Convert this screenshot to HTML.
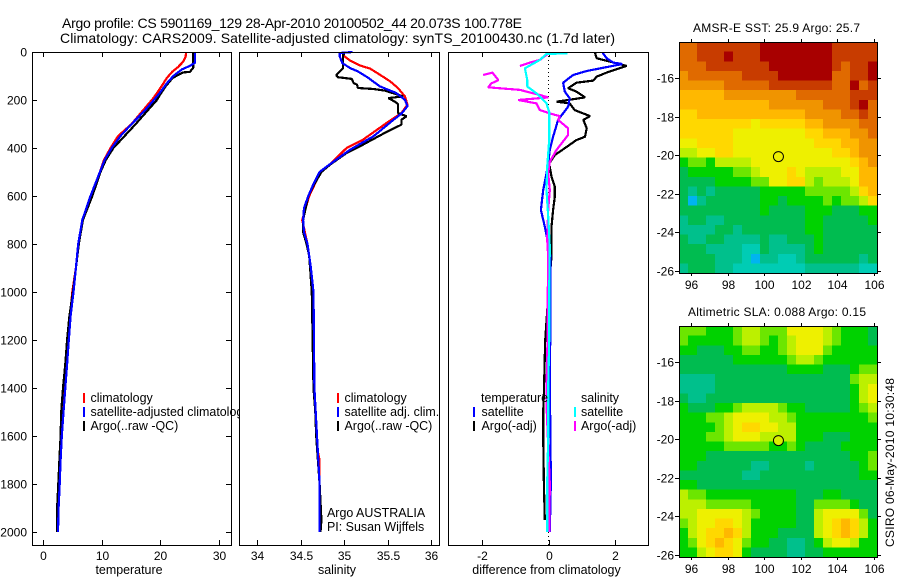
<!DOCTYPE html>
<html lang="en">
<head>
<meta charset="utf-8">
<title>Argo profile</title>
<style>
html,body{margin:0;padding:0;background:#fff;}
svg{display:block;font-family:"Liberation Sans",sans-serif;fill:#000;}
text{font-size:12px;}
text.wide{font-size:12.45px;}
</style>
</head>
<body>
<svg id="chart" width="900" height="580" viewBox="0 0 900 580" xmlns="http://www.w3.org/2000/svg">
<rect x="0" y="0" width="900" height="580" fill="#fff"/>
<text x="62" y="28" style="font-size:14px" textLength="460" lengthAdjust="spacing">Argo profile: CS 5901169_129 28-Apr-2010 20100502_44 20.073S 100.778E</text>
<text x="60" y="43" style="font-size:14px" textLength="555" lengthAdjust="spacing">Climatology: CARS2009. Satellite-adjusted climatology: synTS_20100430.nc (1.7d later)</text>
<text x="693" y="32" textLength="167" lengthAdjust="spacing">AMSR-E SST: 25.9 Argo: 25.7</text>
<text x="688" y="316" textLength="178" lengthAdjust="spacing">Altimetric SLA: 0.088 Argo: 0.15</text>
<text transform="translate(894,547) rotate(-90)" textLength="169" lengthAdjust="spacing">CSIRO 06-May-2010 10:30:48</text>
<g id="layer"></g>
</svg>
<script>
/* ---------- depth-profile data ---------- */
const depthTicks = [0,200,400,600,800,1000,1200,1400,1600,1800,2000];
const tempTicks = [0,10,20,30];
const salTicks = [34,34.5,35,35.5,36];
const salTickLabels = ['34','34.5','35','35.5','36'];
const diffTicks = [-2,0,2];

const tempClimDepth = [0,20,40,63,83,108,150,192,250,300,350,400,450,500,600,700,800,900,1000,1100,1200,1300,1400,1500,1600,1700,1800,1900,2000];
const tempClimValues = [24.4,24.3,23.9,23.0,22.0,21.1,20.0,18.8,16.8,15.1,12.8,11.5,10.4,9.7,8.3,6.8,6.1,5.6,5.0,4.6,4.3,4.0,3.7,3.4,3.2,3.0,2.8,2.6,2.5];

const tempSatDepth = [0,45,58,72,100,130,170,200,250,300,350,400,450,500,600,700,800,900,1000,1100,1200,1300,1400,1500,1600,1700,1800,1900,2000];
const tempSatValues = [25.9,25.9,25.0,23.7,22.2,21.1,19.9,18.9,17.1,15.1,13.2,11.7,10.5,9.7,8.1,6.7,6.0,5.6,5.2,4.7,4.4,4.1,3.8,3.5,3.2,3.0,2.85,2.65,2.55];

const tempArgoDepth = [0,66,83,85,96,108,146,179,200,250,300,350,400,450,500,600,700,800,900,1000,1100,1200,1300,1400,1500,1600,1700,1800,1900,2000];
const tempArgoValues = [25.6,25.6,25.0,23.9,23.0,22.1,20.8,19.9,19.4,17.6,15.8,13.9,12.0,10.7,9.8,8.4,6.8,6.1,5.6,5.1,4.5,4.1,3.8,3.4,3.1,3.0,2.8,2.6,2.4,2.4];

const salClimDepth = [14,36,56,69,94,122,150,185,219,254,296,365,400,467,500,600,700,800,900,1000,1400,1650,1700,1800,2000];
const salClimValues = [34.99,35.07,35.18,35.30,35.41,35.53,35.62,35.70,35.73,35.66,35.49,35.22,35.03,34.84,34.73,34.60,34.52,34.58,34.62,34.64,34.66,34.69,34.72,34.72,34.72];

const salArgoDepth = [0,4,67,97,105,112,129,136,150,154,161,185,192,208,217,254,268,282,303,333,386,421,469,500,550,600,650,700,750,800,850,900,1000,1400,1500,1600,1800,1950,2000];
const salArgoValues = [34.99,34.99,34.99,34.91,34.93,35.09,35.11,35.15,35.16,35.34,35.47,35.68,35.51,35.59,35.62,35.62,35.72,35.66,35.66,35.49,35.22,35.03,34.84,34.74,34.66,34.59,34.56,34.53,34.53,34.57,34.60,34.61,34.63,34.65,34.67,34.68,34.72,34.74,34.73];

const salSatDepth = [0,4,18,46,67,81,108,143,171,199,226,257,282,351,407,467,500,550,600,650,700,750,800,900,1000,1400,1600,1800,2000];
const salSatValues = [35.10,34.95,34.95,34.98,35.07,35.16,35.28,35.41,35.60,35.70,35.73,35.66,35.57,35.34,35.07,34.84,34.72,34.65,34.59,34.54,34.53,34.54,34.58,34.62,34.65,34.66,34.69,34.72,34.72];

const diffTempSatDepth = [3,26,44,50,79,96,128,165,193,228,283,353,408,464,506,575,658,728,797,853,1000,1200,1420,1600,1800,2000];
const diffTempSatValues = [1.63,1.75,1.95,2.23,1.15,0.74,0.44,0.49,0.64,0.59,0.29,0.14,0.04,-0.01,-0.06,-0.16,-0.23,-0.11,-0.01,0.06,0.05,0.05,0.04,0.06,0.07,0.04];

const diffTempArgoDepth = [3,26,47,58,86,103,119,128,151,165,189,207,214,242,267,283,318,353,367,401,429,464,519,561,603,658,728,853,1000,1200,1420,1500,1600,1800,1950];
const diffTempArgoValues = [1.40,1.45,2.05,2.35,1.75,1.45,1.35,0.84,0.59,0.84,1.10,0.24,0.64,0.79,1.25,1.05,1.15,1.10,0.84,0.49,0.19,0.02,0.09,0.19,0.19,0.14,0.09,0.09,0.0,-0.10,-0.14,-0.16,-0.16,-0.14,-0.11];

const diffSalArgoDepth = [6,33,44,58,null,96,86,117,131,147,158,179,189,200,214,242,258,267,283,318,346,408,457,506,575,658,783,853,1000,1200,1420,1500,1800,2000];
const diffSalArgoValues = [0.0,-0.26,-0.56,-0.86,null,-1.97,-1.69,-1.51,-1.72,-1.82,-0.86,-0.26,-0.01,-0.91,-0.36,-0.26,0.09,0.34,0.29,0.59,0.59,0.24,0.04,-0.01,0.04,-0.01,-0.04,-0.01,-0.02,-0.03,-0.06,-0.05,0.04,0.02];

const diffSalSatDepth = [6,8,33,68,117,144,172,214,249,367,478,575,686,811,1000,1200,1400,1600,1800,2000];
const diffSalSatValues = [0.57,-0.06,-0.26,-0.71,-0.64,-0.64,-0.36,-0.06,0.02,0.02,-0.04,-0.06,-0.01,0.04,0.02,0.02,-0.01,-0.01,-0.04,-0.04];

/* ---------- map data: colour levels, 0 = lowest, 13 = highest ---------- */
const lonTicks = [96,98,100,102,104,106];
const latTicks = [-16,-18,-20,-22,-24,-26];
const argoLon = 100.778;
const argoLat = -20.073;

const sstLevels = [
[11,11,12,12,12,12,12,12,12,13,13,13,13,13,13,13,13,12,12,12,12,12],
[11,11,12,12,12,13,12,12,12,13,13,13,13,13,13,13,13,12,12,12,12,12],
[11,11,11,12,12,12,12,12,12,12,13,13,13,13,13,13,13,12,11,12,12,13],
[10,11,11,11,11,11,11,12,12,12,12,13,13,13,13,13,13,11,11,12,12,13],
[10,10,10,10,10,11,11,11,11,11,12,12,12,12,12,12,12,11,11,13,11,12],
[9,9,9,9,9,10,10,10,10,10,10,10,10,11,11,11,11,11,11,12,12,12],
[9,9,9,9,9,9,9,9,9,9,10,10,10,10,10,10,11,11,11,12,13,11],
[8,8,9,9,9,9,9,9,9,9,9,9,9,9,10,10,10,10,11,11,12,11],
[8,8,8,8,8,8,8,8,7,8,8,8,8,8,9,9,10,10,10,10,11,11],
[8,8,8,8,8,8,7,7,7,7,7,7,7,7,8,8,9,9,9,10,10,11],
[7,7,8,8,8,8,7,7,7,7,7,7,7,7,7,8,8,8,9,9,10,10],
[6,6,7,7,8,8,7,7,7,7,7,7,7,7,7,7,7,8,8,9,10,10],
[4,5,5,4,6,6,6,6,7,7,7,7,7,7,7,7,7,7,7,8,9,10],
[3,4,4,4,4,4,5,5,6,7,7,7,8,7,6,6,6,6,7,7,9,9],
[3,3,3,3,4,4,4,4,5,5,7,7,8,8,6,5,6,6,6,7,9,9],
[3,2,3,2,3,3,3,3,3,4,4,4,4,4,5,5,5,5,5,6,8,9],
[3,0,2,3,3,3,3,3,3,4,4,3,4,4,4,4,5,4,5,5,6,8],
[3,3,3,3,3,3,3,3,3,4,3,3,3,3,4,4,4,3,3,3,4,4],
[2,3,3,2,2,3,3,3,3,3,3,3,3,3,4,4,3,3,3,3,3,4],
[2,2,2,2,3,3,2,3,3,3,3,3,3,3,4,4,3,3,3,3,3,3],
[3,2,2,3,3,2,2,2,2,3,2,2,3,3,3,4,3,3,3,3,3,3],
[3,3,3,2,2,2,2,1,1,3,2,2,2,2,3,4,3,3,3,3,3,3],
[3,3,3,3,2,2,2,1,0,2,2,1,1,2,3,3,3,3,3,3,2,3],
[2,3,3,3,2,2,1,1,1,1,1,1,1,1,2,2,2,2,2,2,1,1]
];

const slaLevels = [
[5,5,5,4,4,4,5,6,6,5,5,5,7,7,7,7,6,5,4,4,4,3],
[5,4,4,4,4,4,5,6,6,5,4,5,6,7,7,7,6,5,4,4,4,3],
[4,4,3,3,3,4,4,5,5,4,4,5,6,7,7,7,5,4,4,4,4,4],
[3,3,3,3,3,3,4,4,4,4,4,4,5,6,6,5,4,4,4,4,4,4],
[3,3,3,3,3,3,3,3,3,3,3,3,4,4,4,4,3,3,3,4,5,5],
[2,2,2,2,3,3,3,3,3,3,3,3,3,3,3,3,3,3,3,5,6,6],
[2,2,2,2,3,3,3,3,3,3,3,3,3,3,3,3,3,3,3,4,6,7],
[3,2,2,3,3,3,3,3,3,3,3,3,3,3,3,3,3,3,3,4,6,7],
[4,3,3,3,4,4,5,6,6,6,6,5,4,4,3,3,3,3,3,4,5,6],
[4,4,4,5,5,6,7,7,7,7,6,6,5,4,4,4,4,4,4,4,4,5],
[4,4,4,4,5,6,7,8,8,7,7,6,6,4,4,4,4,4,4,4,4,4],
[4,4,4,5,5,6,7,7,7,6,6,6,6,4,4,4,3,3,3,4,4,4],
[4,4,4,4,4,5,5,5,5,5,4,4,5,4,3,3,3,3,4,4,4,4],
[4,4,4,3,3,3,3,3,3,3,3,3,3,3,3,3,3,3,3,4,4,5],
[4,4,3,3,3,3,3,3,2,2,3,3,3,3,2,3,3,3,3,3,4,5],
[3,3,3,3,3,3,3,2,2,3,3,3,3,3,3,3,3,3,3,3,4,4],
[4,4,3,3,3,3,3,3,3,3,3,3,3,3,3,3,3,3,3,3,3,3],
[6,5,5,4,4,4,4,4,4,4,4,4,4,3,3,3,4,4,3,3,3,3],
[6,6,6,5,5,5,5,5,4,4,4,4,4,3,3,5,5,5,5,4,3,3],
[6,6,7,7,7,7,7,6,5,4,4,4,4,3,3,6,7,7,7,7,5,3],
[5,6,7,7,8,8,7,6,4,4,4,4,4,3,3,6,7,8,9,8,6,4],
[4,6,7,8,8,9,8,6,4,4,4,3,3,3,3,6,7,8,9,8,6,4],
[4,5,7,8,9,8,7,5,4,4,3,3,2,2,3,4,6,7,7,6,4,4],
[4,4,6,7,8,8,7,4,3,3,3,3,2,2,3,3,4,4,4,4,4,4]
];

const levelColors = ['#00b4f0','#00ccb4','#00c08c','#00bc50','#00d200','#6ce600','#bcf000','#eef000','#ffd800','#ffb800','#f09400','#e06a00','#c83c00','#a80000'];

/* ---------- drawing ---------- */
const NS = 'http://www.w3.org/2000/svg';
const layer = document.getElementById('layer');
function mk(tag, attrs, parent) {
  const el = document.createElementNS(NS, tag);
  for (const k in attrs) el.setAttribute(k, attrs[k]);
  (parent || layer).appendChild(el);
  return el;
}
const TOP = 52, BOTTOM = 545;
function yDepth(d) { return TOP + d * 0.24; }
function xTemp(v) { return 43 + v * 5.87; }
function xSal(v) { return 257 + (v - 34) * 87; }
function xDiff(v) { return 548.5 + v * 33.2; }

function linePath(depths, values, xFn) {
  let d = '', pen = false;
  depths.forEach(function (dep, i) {
    if (dep === null || values[i] === null) { pen = false; return; }
    d += (pen ? 'L' : 'M') + xFn(values[i]).toFixed(1) + ' ' + yDepth(dep).toFixed(1);
    pen = true;
  });
  return d;
}
function drawSeries(name, depths, values, xFn, color, parent) {
  const p = mk('path', {d: linePath(depths, values, xFn), fill: 'none', stroke: color, 'stroke-width': 2.2, 'shape-rendering': 'crispEdges', 'stroke-linejoin': 'bevel'}, parent);
  
  
}
function label(txt, x, y, anchor, parent) {
  const t = mk('text', {x: x, y: y, 'text-anchor': anchor || 'start'}, parent);
  t.textContent = txt;
  return t;
}
function wideLabel(txt, x, y, anchor, parent) {
  const t = label(txt, x, y, anchor, parent);
  t.setAttribute('class', 'wide');
  return t;
}
function tick(x1, y1, x2, y2, parent) {
  const l = mk('line', {x1: x1, y1: y1, x2: x2, y2: y2, stroke: '#000', 'stroke-width': 1, 'shape-rendering': 'crispEdges'}, parent);
  
  
}
function panelFrame(name, x0, x1) {
  const g = mk('g', {});
  
  
  const r = mk('rect', {x: x0 + 0.5, y: TOP + 0.5, width: x1 - x0, height: BOTTOM - TOP, fill: '#fff', stroke: 'none'}, g);
  
  
  return g;
}
function panelBorder(name, x0, x1, g) {
  const r = mk('rect', {x: x0 + 0.5, y: TOP + 0.5, width: x1 - x0, height: BOTTOM - TOP, fill: 'none', stroke: '#000', 'stroke-width': 1, 'shape-rendering': 'crispEdges'}, g);
  
  
}
function xTicks(g, values, labels, xFn) {
  values.forEach(function (v, i) {
    const x = Math.round(xFn(v)) + 0.5;
    tick(x, TOP, x, TOP + 5, g);
    tick(x, BOTTOM, x, BOTTOM - 5, g);
    const t = label(labels[i], x, 560, 'middle', g);
    
    
  });
}
function legendEntry(name, g, barX, textX, baseline, color, txt) {
  if (color) {
    const b = mk('rect', {x: barX, y: baseline - 9, width: 2, height: 10, fill: color}, g);
    
    
  }
  const t = wideLabel(txt, textX, baseline, 'start', g);
  
  
}

/* temperature panel */
const pTemp = panelFrame('temperature-panel', 32, 231);
xTicks(pTemp, tempTicks, tempTicks.map(String), xTemp);
depthTicks.forEach(function (d) {
  const y = Math.round(yDepth(d)) + 0.5;
  if (d > 0) tick(32, y, 37, y, pTemp);
  if (d > 0) tick(231, y, 226, y, pTemp);
  const t = label(String(d), 27, y + 4, 'end', pTemp);
  
  
});
drawSeries('temperature-climatology-line', tempClimDepth, tempClimValues, xTemp, '#ff0000', pTemp);
drawSeries('temperature-argo-line', tempArgoDepth, tempArgoValues, xTemp, '#000000', pTemp);
drawSeries('temperature-satellite-line', tempSatDepth, tempSatValues, xTemp, '#0000ff', pTemp);
legendEntry('legend-climatology', pTemp, 83, 90.5, 402, '#ff0000', 'climatology');
legendEntry('legend-satellite-adjusted', pTemp, 83, 90.5, 416, '#0000ff', 'satellite-adjusted climatology');
legendEntry('legend-argo', pTemp, 83, 90.5, 430, '#000000', 'Argo(..raw -QC)');
panelBorder('temperature-panel', 32, 231, pTemp);
const tTempTitle = wideLabel('temperature', 129, 574, 'middle', pTemp);



/* salinity panel */
const pSal = panelFrame('salinity-panel', 239, 439);
xTicks(pSal, salTicks, salTickLabels, xSal);
drawSeries('salinity-climatology-line', salClimDepth, salClimValues, xSal, '#ff0000', pSal);
drawSeries('salinity-argo-line', salArgoDepth, salArgoValues, xSal, '#000000', pSal);
drawSeries('salinity-satellite-line', salSatDepth, salSatValues, xSal, '#0000ff', pSal);
legendEntry('salinity-legend-climatology', pSal, 337, 344.5, 402, '#ff0000', 'climatology');
legendEntry('salinity-legend-satellite', pSal, 337, 344.5, 416, '#0000ff', 'satellite adj. clim.');
legendEntry('salinity-legend-argo', pSal, 337, 344.5, 430, '#000000', 'Argo(..raw -QC)');
legendEntry('argo-program-note', pSal, 0, 327, 517, null, 'Argo AUSTRALIA');
legendEntry('principal-investigator-note', pSal, 0, 327, 531, null, 'PI: Susan Wijffels');
panelBorder('salinity-panel', 239, 439, pSal);
const tSalTitle = wideLabel('salinity', 337, 574, 'middle', pSal);



/* difference panel */
const pDiff = panelFrame('difference-panel', 448, 648);
xTicks(pDiff, diffTicks, diffTicks.map(String), xDiff);
const zeroLine = mk('line', {x1: xDiff(0), y1: TOP, x2: xDiff(0), y2: BOTTOM, stroke: '#000', 'stroke-width': 1, 'stroke-dasharray': '1 3', 'shape-rendering': 'crispEdges'}, pDiff);


drawSeries('difference-temperature-argo-line', diffTempArgoDepth, diffTempArgoValues, xDiff, '#000000', pDiff);
drawSeries('difference-temperature-satellite-line', diffTempSatDepth, diffTempSatValues, xDiff, '#0000ff', pDiff);
drawSeries('difference-salinity-argo-line', diffSalArgoDepth, diffSalArgoValues, xDiff, '#ff00ff', pDiff);
drawSeries('difference-salinity-satellite-line', diffSalSatDepth, diffSalSatValues, xDiff, '#00ffff', pDiff);
legendEntry('difference-legend-temperature-heading', pDiff, 0, 481, 402, null, 'temperature');
legendEntry('difference-legend-temperature-satellite', pDiff, 473, 481.5, 416, '#0000ff', 'satellite');
legendEntry('difference-legend-temperature-argo', pDiff, 473, 481.5, 430, '#000000', 'Argo(-adj)');
legendEntry('difference-legend-salinity-heading', pDiff, 0, 581, 402, null, 'salinity');
legendEntry('difference-legend-salinity-satellite', pDiff, 574, 581, 416, '#00ffff', 'satellite');
legendEntry('difference-legend-salinity-argo', pDiff, 574, 581, 430, '#ff00ff', 'Argo(-adj)');
panelBorder('difference-panel', 448, 648, pDiff);
const tDiffTitle = wideLabel('difference from climatology', 546.5, 574, 'middle', pDiff);



/* maps */
function drawMap(name, levels, top, bottom, lat16y, lonLabelY, markerFill) {
  const g = mk('g', {});
  
  
  const left = 679, right = 877;
  const xLon = function (lon) { return 691 + (lon - 96) * 18.3; };
  const yLat = function (lat) { return lat16y + (-16 - lat) * 19.3; };
  const rows = levels.length, cols = levels[0].length;
  const cw = (right - left) / cols, ch = (bottom - top) / rows;
  levels.forEach(function (row, r) {
    row.forEach(function (v, c) {
      const cell = mk('rect', {
        x: (left + c * cw).toFixed(2), y: (top + r * ch).toFixed(2),
        width: (cw + 0.5).toFixed(2), height: (ch + 0.5).toFixed(2),
        fill: levelColors[v], 'shape-rendering': 'crispEdges'
      }, g);
      
      
    });
  });
  const frame = mk('rect', {x: left + 0.5, y: top + 0.5, width: right - left, height: bottom - top, fill: 'none', stroke: '#000', 'stroke-width': 1, 'shape-rendering': 'crispEdges'}, g);
  
  
  lonTicks.forEach(function (lon) {
    const x = Math.round(xLon(lon)) + 0.5;
    tick(x, top - 3, x, top, g);
    tick(x, bottom, x, bottom + 3, g);
    const t = label(String(lon), x, lonLabelY, 'middle', g);
    
    
  });
  latTicks.forEach(function (lat) {
    const y = Math.round(yLat(lat)) + 0.5;
    tick(left - 4, y, left, y, g);
    tick(right, y, right + 4, y, g);
    const t = label(String(lat), 674, y + 4, 'end', g);
    
    
  });
  const marker = mk('circle', {cx: xLon(argoLon), cy: yLat(argoLat), r: 5, fill: markerFill, stroke: '#000', 'stroke-width': 1}, g);
  
  
}
drawMap('sst-map', sstLevels, 42, 273, 78, 289, '#eef000');
drawMap('sla-map', slaLevels, 326, 557, 362, 573, '#d8f000');
</script>
</body>
</html>
